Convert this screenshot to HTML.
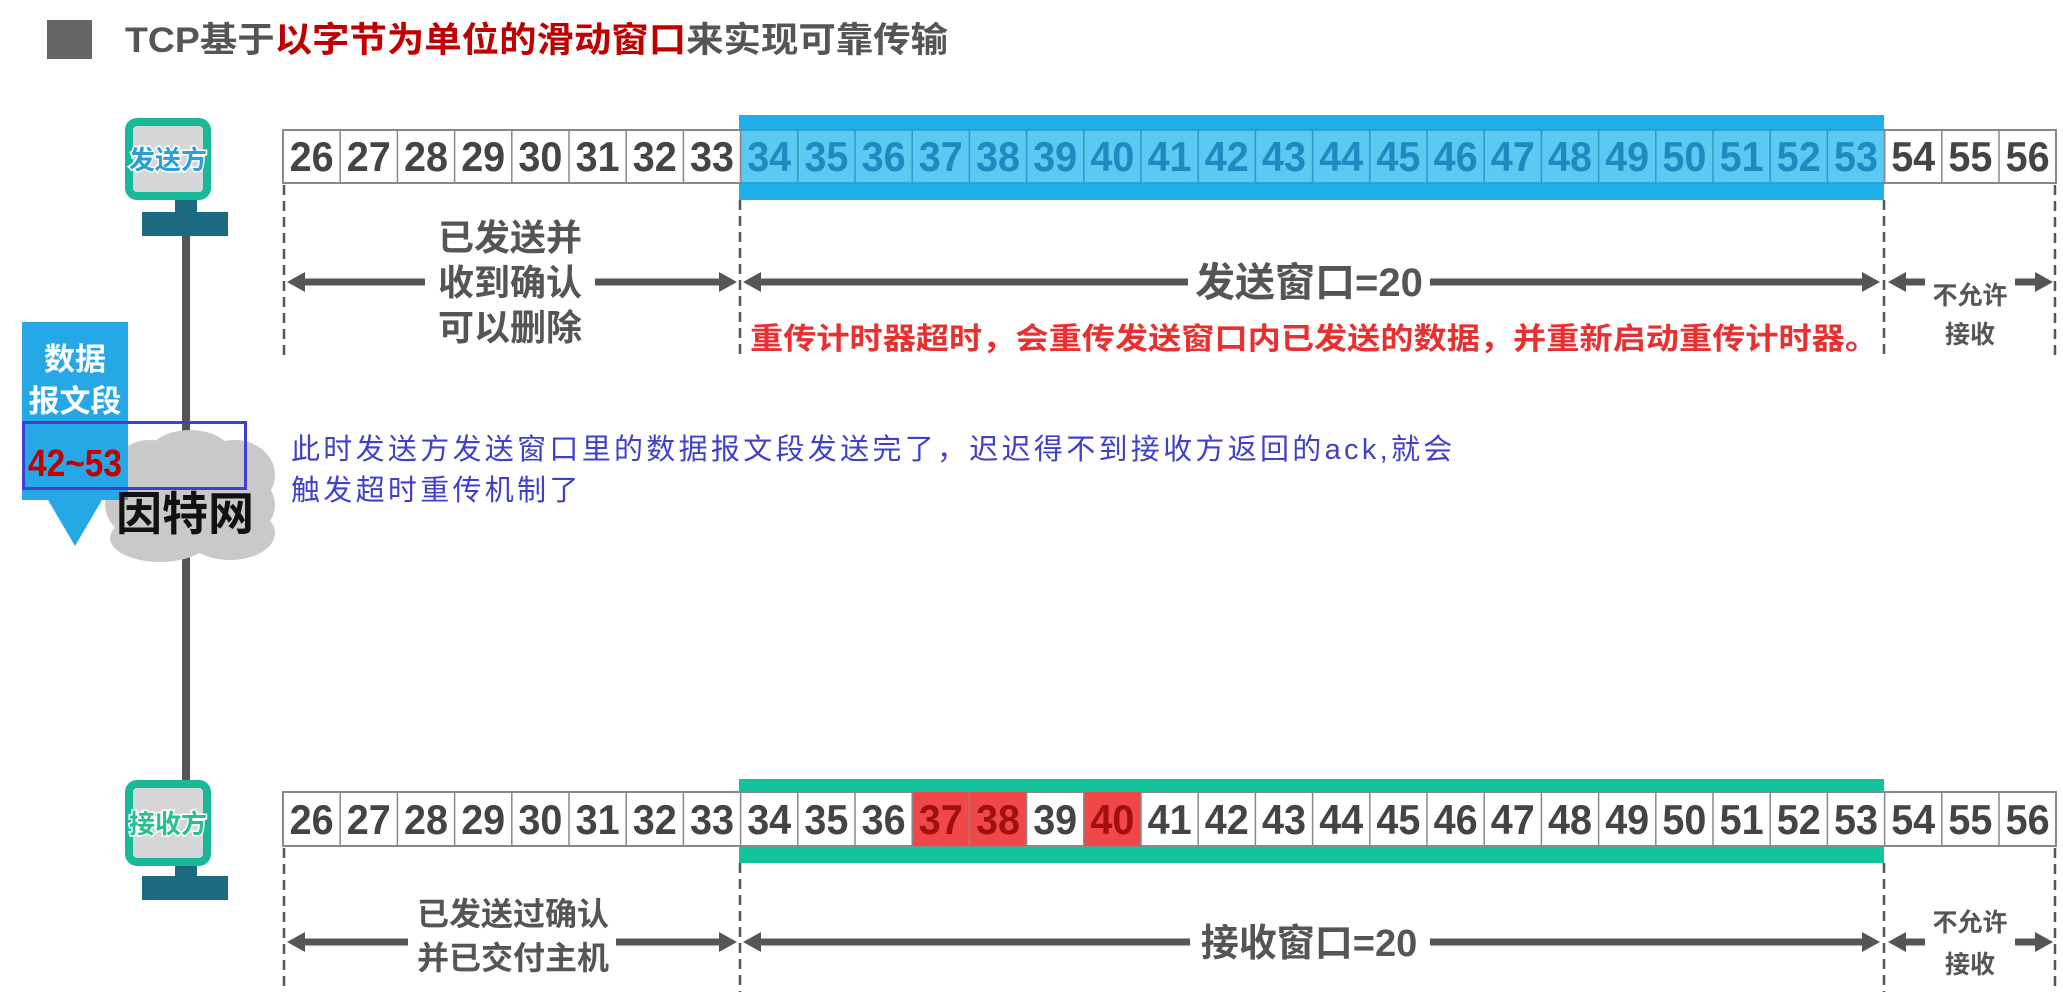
<!DOCTYPE html>
<html><head><meta charset="utf-8"><style>
html,body{margin:0;padding:0;background:#fff;width:2063px;height:992px;overflow:hidden}
svg{display:block}
.t{font-family:"Liberation Sans","Noto Sans CJK SC",sans-serif;font-weight:bold}
.n{font-family:"Liberation Sans",sans-serif;font-weight:bold;font-size:42px;text-anchor:middle}
.ann{position:absolute;left:291px;top:430px;font-family:"Liberation Sans","Noto Sans CJK SC",sans-serif;font-size:29px;line-height:41px;color:#4040c8;letter-spacing:3.3px;white-space:nowrap}
</style></head><body>
<svg width="2063" height="992" viewBox="0 0 2063 992" xmlns="http://www.w3.org/2000/svg">
<rect x="47" y="20" width="45" height="39" fill="#666"/>
<text class="t" x="125" y="52" font-size="35" fill="#555" textLength="823" lengthAdjust="spacingAndGlyphs">TCP基于<tspan fill="#c00000">以字节为单位的滑动窗口</tspan>来实现可靠传输</text>

<rect x="129" y="122" width="78" height="74" rx="8" fill="#d4d6d8" stroke="#19b898" stroke-width="8"/>
<text class="t" x="168" y="169" font-size="26" fill="#2a9fd6" stroke="#fff" stroke-width="3" paint-order="stroke" text-anchor="middle">发送方</text>
<rect x="175" y="200" width="22" height="14" fill="#1b6a80"/>
<rect x="142" y="212" width="86" height="24" fill="#1b6a80"/>
<rect x="182" y="236" width="8" height="545" fill="#555"/>
<rect x="129" y="784" width="78" height="78" rx="8" fill="#d4d6d8" stroke="#19b898" stroke-width="8"/>
<text class="t" x="168" y="833" font-size="26" fill="#2abf90" stroke="#fff" stroke-width="3" paint-order="stroke" text-anchor="middle">接收方</text>
<rect x="175" y="866" width="22" height="12" fill="#1b6a80"/>
<rect x="142" y="876" width="86" height="24" fill="#1b6a80"/>

<rect x="739" y="115" width="1145" height="85" fill="#1fb0ea"/>
<rect x="739" y="779" width="1145" height="84" fill="#13c39c"/>

<rect x="283" y="130" width="1773" height="53" fill="#fff" stroke="#888" stroke-width="2"/>
<rect x="740.6" y="130" width="1144" height="53" fill="#5cc9f2" stroke="#2a9bc8" stroke-width="1.5"/>
<path d="M340.2 130V183M397.4 130V183M454.6 130V183M511.8 130V183M569 130V183M626.2 130V183M683.4 130V183M740.6 130V183M1884.6 130V183M1941.8 130V183M1999 130V183" stroke="#888" stroke-width="1.5"/>
<path d="M797.8 130V183M855 130V183M912.2 130V183M969.4 130V183M1026.6 130V183M1083.8 130V183M1141 130V183M1198.2 130V183M1255.4 130V183M1312.6 130V183M1369.8 130V183M1427 130V183M1484.2 130V183M1541.4 130V183M1598.6 130V183M1655.8 130V183M1713 130V183M1770.2 130V183M1827.4 130V183" stroke="#2a9bc8" stroke-width="1.5"/>
<g class="n" fill="#444">
<text x="311.6" y="171" textLength="44" lengthAdjust="spacingAndGlyphs">26</text>
<text x="368.8" y="171" textLength="44" lengthAdjust="spacingAndGlyphs">27</text>
<text x="426" y="171" textLength="44" lengthAdjust="spacingAndGlyphs">28</text>
<text x="483.2" y="171" textLength="44" lengthAdjust="spacingAndGlyphs">29</text>
<text x="540.4" y="171" textLength="44" lengthAdjust="spacingAndGlyphs">30</text>
<text x="597.6" y="171" textLength="44" lengthAdjust="spacingAndGlyphs">31</text>
<text x="654.8" y="171" textLength="44" lengthAdjust="spacingAndGlyphs">32</text>
<text x="712" y="171" textLength="44" lengthAdjust="spacingAndGlyphs">33</text>
<text x="1913.2" y="171" textLength="44" lengthAdjust="spacingAndGlyphs">54</text>
<text x="1970.4" y="171" textLength="44" lengthAdjust="spacingAndGlyphs">55</text>
<text x="2027.6" y="171" textLength="44" lengthAdjust="spacingAndGlyphs">56</text>
</g>
<g class="n" fill="#1a8cc0">
<text x="769.2" y="171" textLength="44" lengthAdjust="spacingAndGlyphs">34</text>
<text x="826.4" y="171" textLength="44" lengthAdjust="spacingAndGlyphs">35</text>
<text x="883.6" y="171" textLength="44" lengthAdjust="spacingAndGlyphs">36</text>
<text x="940.8" y="171" textLength="44" lengthAdjust="spacingAndGlyphs">37</text>
<text x="998" y="171" textLength="44" lengthAdjust="spacingAndGlyphs">38</text>
<text x="1055.2" y="171" textLength="44" lengthAdjust="spacingAndGlyphs">39</text>
<text x="1112.4" y="171" textLength="44" lengthAdjust="spacingAndGlyphs">40</text>
<text x="1169.6" y="171" textLength="44" lengthAdjust="spacingAndGlyphs">41</text>
<text x="1226.8" y="171" textLength="44" lengthAdjust="spacingAndGlyphs">42</text>
<text x="1284" y="171" textLength="44" lengthAdjust="spacingAndGlyphs">43</text>
<text x="1341.2" y="171" textLength="44" lengthAdjust="spacingAndGlyphs">44</text>
<text x="1398.4" y="171" textLength="44" lengthAdjust="spacingAndGlyphs">45</text>
<text x="1455.6" y="171" textLength="44" lengthAdjust="spacingAndGlyphs">46</text>
<text x="1512.8" y="171" textLength="44" lengthAdjust="spacingAndGlyphs">47</text>
<text x="1570" y="171" textLength="44" lengthAdjust="spacingAndGlyphs">48</text>
<text x="1627.2" y="171" textLength="44" lengthAdjust="spacingAndGlyphs">49</text>
<text x="1684.4" y="171" textLength="44" lengthAdjust="spacingAndGlyphs">50</text>
<text x="1741.6" y="171" textLength="44" lengthAdjust="spacingAndGlyphs">51</text>
<text x="1798.8" y="171" textLength="44" lengthAdjust="spacingAndGlyphs">52</text>
<text x="1856" y="171" textLength="44" lengthAdjust="spacingAndGlyphs">53</text>
</g>

<rect x="283" y="792" width="1773" height="54" fill="#fff" stroke="#888" stroke-width="2"/>
<rect x="912.2" y="792" width="114.4" height="54" fill="#f04848"/>
<rect x="1083.8" y="792" width="57.2" height="54" fill="#f04848"/>
<path d="M340.2 792V846M397.4 792V846M454.6 792V846M511.8 792V846M569 792V846M626.2 792V846M683.4 792V846M740.6 792V846M797.8 792V846M855 792V846M912.2 792V846M969.4 792V846M1026.6 792V846M1083.8 792V846M1141 792V846M1198.2 792V846M1255.4 792V846M1312.6 792V846M1369.8 792V846M1427 792V846M1484.2 792V846M1541.4 792V846M1598.6 792V846M1655.8 792V846M1713 792V846M1770.2 792V846M1827.4 792V846M1884.6 792V846M1941.8 792V846M1999 792V846" stroke="#888" stroke-width="1.5"/>
<g class="n" fill="#444">
<text x="311.6" y="834" textLength="44" lengthAdjust="spacingAndGlyphs">26</text>
<text x="368.8" y="834" textLength="44" lengthAdjust="spacingAndGlyphs">27</text>
<text x="426" y="834" textLength="44" lengthAdjust="spacingAndGlyphs">28</text>
<text x="483.2" y="834" textLength="44" lengthAdjust="spacingAndGlyphs">29</text>
<text x="540.4" y="834" textLength="44" lengthAdjust="spacingAndGlyphs">30</text>
<text x="597.6" y="834" textLength="44" lengthAdjust="spacingAndGlyphs">31</text>
<text x="654.8" y="834" textLength="44" lengthAdjust="spacingAndGlyphs">32</text>
<text x="712" y="834" textLength="44" lengthAdjust="spacingAndGlyphs">33</text>
<text x="769.2" y="834" textLength="44" lengthAdjust="spacingAndGlyphs">34</text>
<text x="826.4" y="834" textLength="44" lengthAdjust="spacingAndGlyphs">35</text>
<text x="883.6" y="834" textLength="44" lengthAdjust="spacingAndGlyphs">36</text>
<text x="940.8" y="834" textLength="44" lengthAdjust="spacingAndGlyphs" fill="#a01010">37</text>
<text x="998" y="834" textLength="44" lengthAdjust="spacingAndGlyphs" fill="#a01010">38</text>
<text x="1055.2" y="834" textLength="44" lengthAdjust="spacingAndGlyphs">39</text>
<text x="1112.4" y="834" textLength="44" lengthAdjust="spacingAndGlyphs" fill="#a01010">40</text>
<text x="1169.6" y="834" textLength="44" lengthAdjust="spacingAndGlyphs">41</text>
<text x="1226.8" y="834" textLength="44" lengthAdjust="spacingAndGlyphs">42</text>
<text x="1284" y="834" textLength="44" lengthAdjust="spacingAndGlyphs">43</text>
<text x="1341.2" y="834" textLength="44" lengthAdjust="spacingAndGlyphs">44</text>
<text x="1398.4" y="834" textLength="44" lengthAdjust="spacingAndGlyphs">45</text>
<text x="1455.6" y="834" textLength="44" lengthAdjust="spacingAndGlyphs">46</text>
<text x="1512.8" y="834" textLength="44" lengthAdjust="spacingAndGlyphs">47</text>
<text x="1570" y="834" textLength="44" lengthAdjust="spacingAndGlyphs">48</text>
<text x="1627.2" y="834" textLength="44" lengthAdjust="spacingAndGlyphs">49</text>
<text x="1684.4" y="834" textLength="44" lengthAdjust="spacingAndGlyphs">50</text>
<text x="1741.6" y="834" textLength="44" lengthAdjust="spacingAndGlyphs">51</text>
<text x="1798.8" y="834" textLength="44" lengthAdjust="spacingAndGlyphs">52</text>
<text x="1856" y="834" textLength="44" lengthAdjust="spacingAndGlyphs">53</text>
<text x="1913.2" y="834" textLength="44" lengthAdjust="spacingAndGlyphs">54</text>
<text x="1970.4" y="834" textLength="44" lengthAdjust="spacingAndGlyphs">55</text>
<text x="2027.6" y="834" textLength="44" lengthAdjust="spacingAndGlyphs">56</text>
</g>

<g stroke="#555" stroke-width="2.5" stroke-dasharray="10,6">
<path d="M284 185V357M740 200V357M1884 200V357M2055 185V357"/>
<path d="M284 848V992M740 863V992M1884 863V992M2055 848V992"/>
</g>

<g fill="#555" stroke="#555">
<path d="M300 282H425M595 282H722M760 282H1188M1430 282H1866M1902 282H1925M2015 282H2040" stroke-width="7"/>
<path d="M287 282l18-10v20z M737 282l-18-10v20z M743 282l18-10v20z M1880 282l-18-10v20z M1888 282l18-10v20z M2053 282l-18-10v20z" stroke="none"/>
<path d="M300 942H408M616 942H722M760 942H1190M1430 942H1866M1902 942H1925M2015 942H2040" stroke-width="7"/>
<path d="M287 942l18-10v20z M737 942l-18-10v20z M743 942l18-10v20z M1880 942l-18-10v20z M1888 942l18-10v20z M2053 942l-18-10v20z" stroke="none"/>
</g>

<g class="t" fill="#555" text-anchor="middle">
<text x="510" y="250" font-size="36">已发送并</text>
<text x="510" y="295" font-size="36">收到确认</text>
<text x="510" y="340" font-size="36">可以删除</text>
<text x="1309" y="296" font-size="40">发送窗口=20</text>
<text x="1970" y="304" font-size="25">不允许</text>
<text x="1970" y="343" font-size="25">接收</text>
<text x="513" y="925" font-size="32">已发送过确认</text>
<text x="513" y="969" font-size="32">并已交付主机</text>
<text x="1309" y="956" font-size="38">接收窗口=20</text>
<text x="1970" y="931" font-size="25">不允许</text>
<text x="1970" y="973" font-size="25">接收</text>
</g>
<text class="t" x="750" y="349" font-size="30" fill="#e83030" stroke="#fff" stroke-width="4" paint-order="stroke" textLength="1128" lengthAdjust="spacingAndGlyphs">重传计时器超时，会重传发送窗口内已发送的数据，并重新启动重传计时器。</text>

<g fill="#c9c9c9">
<ellipse cx="190" cy="505" rx="85" ry="48"/>
<ellipse cx="150" cy="475" rx="40" ry="35"/>
<ellipse cx="235" cy="475" rx="40" ry="35"/>
<ellipse cx="190" cy="460" rx="45" ry="30"/>
<ellipse cx="160" cy="538" rx="50" ry="24"/>
<ellipse cx="230" cy="533" rx="45" ry="27"/>
</g>
<path d="M22 322H128V500H102L75 546L48 500H22Z" fill="#27a8e6"/>
<text class="t" x="75" y="370" font-size="31" fill="#fff" text-anchor="middle">数据</text>
<text class="t" x="75" y="412" font-size="31" fill="#fff" text-anchor="middle">报文段</text>
<rect x="22" y="421" width="106" height="68" fill="#27a8e6"/>
<text class="t" x="28" y="476" font-size="38" fill="#c00000" textLength="94" lengthAdjust="spacingAndGlyphs">42~53</text>
<text class="t" x="116" y="530" font-size="46" fill="#111">因特网</text>
<rect x="23.5" y="422.5" width="222" height="66" fill="none" stroke="#4040d0" stroke-width="3"/>
</svg>
<div class="ann">此时发送方发送窗口里的数据报文段发送完了，迟迟得不到接收方返回的ack,就会<br>触发超时重传机制了</div>
</body></html>
